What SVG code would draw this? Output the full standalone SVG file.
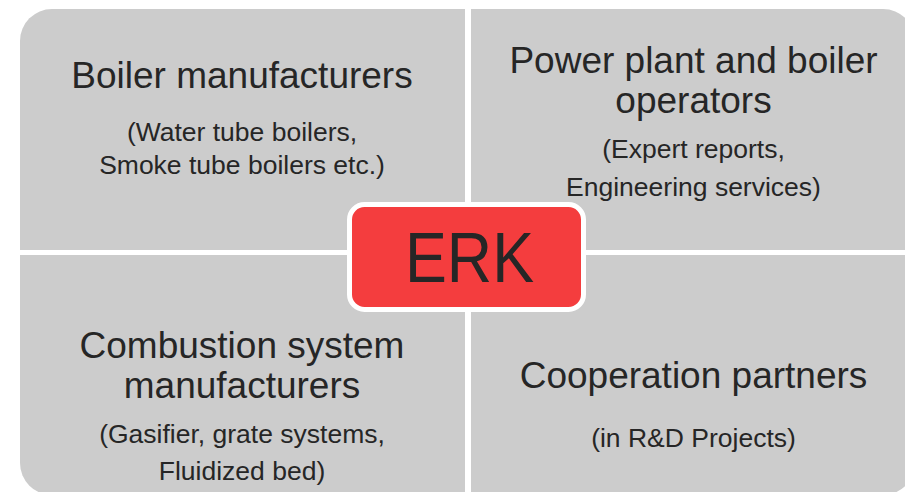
<svg xmlns="http://www.w3.org/2000/svg" width="905" height="492" viewBox="0 0 905 492">
<style>
.q{fill:#cccccc}
.t{font-family:"Liberation Sans",Arial,sans-serif;fill:#262626;text-anchor:middle}
.h{font-size:37px}
.s{font-size:26.5px}
</style>
<rect width="905" height="492" fill="#ffffff"/>
<g id="boiler-manufacturers">
<path class="q" d="M20,41 A32,32 0 0 1 52,9 H465 V250 H20 Z"/>
<text class="t h" x="242" y="88">Boiler manufacturers</text>
<text class="t s" x="242" y="141">(Water tube boilers,</text>
<text class="t s" x="242" y="174">Smoke tube boilers etc.)</text>
</g>
<g id="power-plant-operators">
<path class="q" d="M471,9 H883 A32,32 0 0 1 915,41 V250 H471 Z"/>
<text class="t h" x="693.5" y="73">Power plant and boiler</text>
<text class="t h" x="693.5" y="113">operators</text>
<text class="t s" x="693.5" y="158">(Expert reports,</text>
<text class="t s" x="693.5" y="196">Engineering services)</text>
</g>
<g id="combustion-system-manufacturers">
<path class="q" d="M20,255 H465 V495 H52 A32,32 0 0 1 20,463 Z"/>
<text class="t h" x="242" y="358">Combustion system</text>
<text class="t h" x="242" y="398">manufacturers</text>
<text class="t s" x="242" y="443">(Gasifier, grate systems,</text>
<text class="t s" x="242" y="480">Fluidized bed)</text>
</g>
<g id="cooperation-partners">
<path class="q" d="M471,255 H915 V463 A32,32 0 0 1 883,495 H471 Z"/>
<text class="t h" x="693.5" y="388">Cooperation partners</text>
<text class="t s" x="693.5" y="447">(in R&amp;D Projects)</text>
</g>
<g id="connectors"></g>
<g id="erk">
<rect x="349.5" y="204.5" width="234" height="105" rx="15" ry="15" fill="#f43d3e" stroke="#ffffff" stroke-width="5"/>
<text class="t" x="469.5" y="282" font-size="71" textLength="129" lengthAdjust="spacingAndGlyphs">ERK</text>
</g>
</svg>
